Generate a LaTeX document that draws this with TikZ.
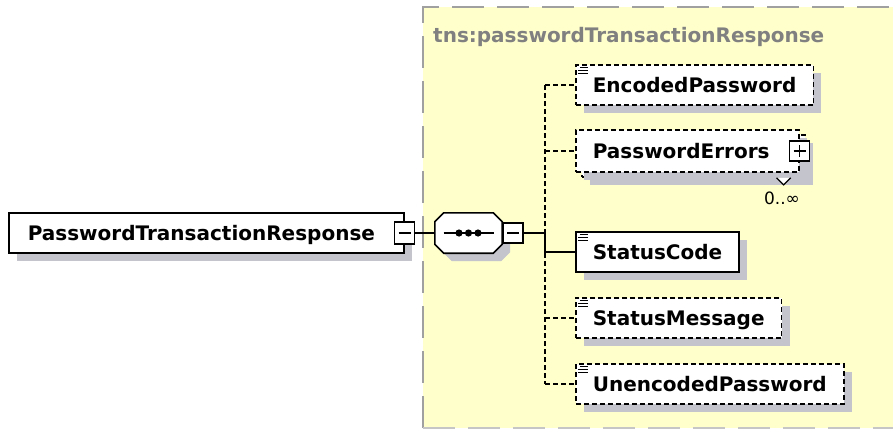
\documentclass[tikz,border=0pt]{standalone}
\usepackage{fontspec}
\setmainfont{DejaVu Sans}
\usetikzlibrary{positioning,shadows,calc}
\definecolor{seqyellow}{RGB}{255,255,204}
\definecolor{shadowgray}{RGB}{196,196,204}
\definecolor{framegray}{RGB}{160,160,160}
\definecolor{typegray}{RGB}{128,128,128}
\tikzset{
	elem/.style={draw, fill=white, line width=1.6pt, font=\bfseries\fontsize{20}{24}\selectfont, minimum height=40pt, inner xsep=17pt, inner ysep=0pt, text height=14pt, text depth=0pt, anchor=west, drop shadow={shadow xshift=8pt, shadow yshift=-8pt, opacity=1, fill=shadowgray}},
	optelem/.style={elem, dash pattern=on 5pt off 3pt},
	pmbox/.style={draw, fill=white, line width=1.6pt, minimum width=20pt, minimum height=20pt, inner sep=0pt},
	minusbox/.style={pmbox, path picture={\draw[line width=1.5pt] ([xshift=-6pt]path picture bounding box.center) -- ([xshift=6pt]path picture bounding box.center);}},
	plusbox/.style={pmbox, path picture={\draw[line width=1.5pt] ([xshift=-6pt]path picture bounding box.center) -- ([xshift=6pt]path picture bounding box.center) ([yshift=-6pt]path picture bounding box.center) -- ([yshift=6pt]path picture bounding box.center);}},
	seqbox/.style={rectangle, minimum width=67pt, minimum height=40pt, inner sep=0pt},
	conn/.style={line width=1.6pt},
	optconn/.style={conn, dash pattern=on 5pt off 3pt}
}
\begin{document}
\begin{tikzpicture}[x=1pt,y=-1pt]
	\useasboundingbox (0,0) rectangle (893,428);
	%%%% sequence area
	\fill[seqyellow] (423,7) rectangle (893,428);
	\draw[framegray, line width=1.8pt, dash pattern=on 32pt off 13pt] (423,428) -- (423,7) -- (893,7);
	\draw[framegray!60, line width=1.5pt, dash pattern=on 32pt off 13pt] (423,428) -- (893,428);
	\node[anchor=base west, inner sep=0pt, text=typegray, font=\bfseries\fontsize{20}{24}\selectfont] (typename) at (433,43) {tns:passwordTransactionResponse};
	
	%%%% root element
	\node[elem, text width=357pt, align=left, inner xsep=19pt] (resp) at (8,233) {PasswordTransactionResponse};
	\node[minusbox, minimum height=22pt] (respminus) at (resp.east) {};
	
	%%%% sequence
	\node[seqbox] (seq) at (468.5,233) {};
	\draw[conn, fill=white, drop shadow={shadow xshift=8pt, shadow yshift=-8pt, opacity=1, fill=shadowgray}]
		($(seq.north west)+(9,0)$) -- ($(seq.north east)+(-9,0)$) -- ($(seq.north east)+(0,9)$)
		-- ($(seq.south east)+(0,-9)$) -- ($(seq.south east)+(-9,0)$) -- ($(seq.south west)+(9,0)$)
		-- ($(seq.south west)+(0,-9)$) -- ($(seq.north west)+(0,9)$) -- cycle;
	\draw[conn] ([xshift=-25pt]seq.center) -- ([xshift=25pt]seq.center);
	\foreach \dx in {-9.5,0,9.5}
		\fill ([xshift=\dx pt]seq.center) circle (3.6pt);
	\node[minusbox, right=0pt of seq] (seqminus) {};
	\draw[conn] (respminus) -- (seq);
	\coordinate (bus) at (545,233);
	
	%%%% children
	\node[optelem] (enc) at (575,85) {EncodedPassword};
	\node[optelem, minimum width=223pt, minimum height=42pt] (errsback) at (581,156) {};
	\node[optelem, drop shadow={opacity=0}, text width=189pt, align=left, minimum height=42pt] (errs) at (575,151) {PasswordErrors};
	\node[plusbox] (errsplus) at (errs.east) {};
	\draw[line width=1.2pt, fill=white] ($(errsback.south east)+(-29,0)$) -- ($(errsback.south east)+(-22,7)$) -- ($(errsback.south east)+(-15,0)$);
	\node[font=\fontsize{17}{20}\selectfont, inner sep=0pt] (errsocc) at (782,198) {0..∞};
	\node[elem] (code) at (575,252) {StatusCode};
	\node[optelem] (msg) at (575,318) {StatusMessage};
	\node[optelem] (unenc) at (575,384) {UnencodedPassword};
	
	%%%% documentation marks
	\foreach \n in {enc,code,msg,unenc}{
		\draw[line width=1pt] ($(\n.north west)+(5,3)$) -- ++(8,0);
		\draw[line width=1pt] ($(\n.north west)+(3,6)$) -- ++(10,0);
		\draw[line width=1pt] ($(\n.north west)+(3,9)$) -- ++(10,0);
	}
	
	%%%% connectors
	\draw[conn] (seqminus) -- (bus);
	\draw[optconn] (enc.west -| bus) -- (unenc.west -| bus);
	\draw[conn] (bus) -- (code.west -| bus) -- (code);
	\foreach \n in {enc,errs,msg,unenc}
		\draw[optconn] (\n.west -| bus) -- (\n.west);
\end{tikzpicture}
\end{document}
